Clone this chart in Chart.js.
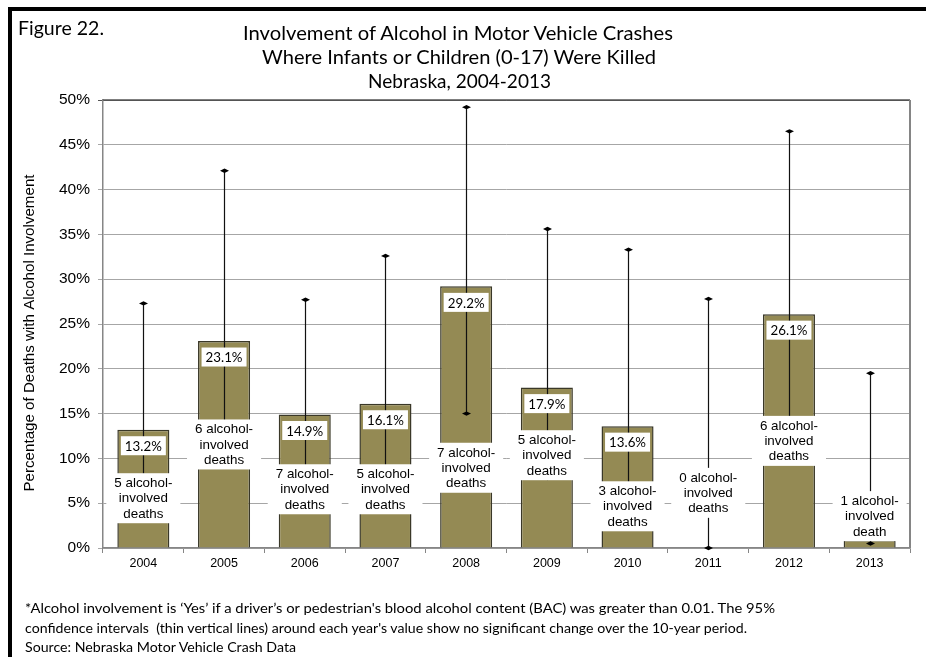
<!DOCTYPE html>
<html><head><meta charset="utf-8">
<script src="https://cdn.jsdelivr.net/npm/chart.js@4.4.1/dist/chart.umd.min.js"></script>
<style>
html,body{margin:0;padding:0;background:#fff;}
#wrap{position:relative;width:926px;height:657px;overflow:hidden;background:#fff;}
canvas{position:absolute;left:0;top:0;}
.t{position:absolute;white-space:pre;color:#000;line-height:1;font-weight:400;}
.frame{position:absolute;background:#000;}
</style></head><body>
<div id="wrap">
<canvas id="c" width="926" height="657"></canvas>
<div class="frame" style="left:8px;top:7px;width:4px;height:650px;"></div>
<div class="frame" style="left:8px;top:7px;width:918px;height:4px;"></div>
</div>
<script>
// ---- data ----
const years = ['2004','2005','2006','2007','2008','2009','2010','2011','2012','2013'];
const pctAlcohol = [13.2, 23.1, 14.9, 16.1, 29.2, 17.9, 13.6, 0, 26.1, 0.9];
const ciLower = [5.6, 11.2, 7.0, 7.0, 15.0, 7.8, 4.7, 0.0, 12.5, 0.5];
const ciUpper = [27.3, 42.1, 27.7, 32.6, 49.2, 35.6, 33.3, 27.8, 46.5, 19.5];
const alcoholDeaths = [5, 6, 7, 5, 7, 5, 3, 0, 6, 1];
const yTickValues = [0, 5, 10, 15, 20, 25, 30, 35, 40, 45, 50];

const titleLines = ['Involvement of Alcohol in Motor Vehicle Crashes',
  'Where Infants or Children (0-17) Were Killed', 'Nebraska, 2004-2013'];
const figureLabel = 'Figure 22.';
const yTitle = 'Percentage of Deaths with Alcohol Involvement';
const footLines = ['*Alcohol involvement is \u2018Yes\u2019 if a driver\u2019s or pedestrian\'s blood alcohol content (BAC) was greater than 0.01. The 95%',
  'confidence intervals  (thin vertical lines) around each year\'s value show no significant change over the 10-year period.',
  'Source: Nebraska Motor Vehicle Crash Data'];

// label placement (value-axis units, where the middle line of each count label sits)
const countLabelAt = [5.5, 11.5, 6.5, 6.5, 8.9, 10.3, 4.6, 6.1, 11.9, 3.5];

const wrap = document.getElementById('wrap');
function addText(txt, font, opts){
  const d = document.createElement('div');
  d.className = 't';
  d.style.font = font;
  d.textContent = txt;
  wrap.appendChild(d);
  const r = d.getBoundingClientRect();
  const s = opts.width ? opts.width / r.width : 1;
  let left = opts.left !== undefined ? opts.left : opts.cx - r.width*s/2;
  d.style.left = left + 'px';
  d.style.top = opts.top + 'px';
  d.style.transformOrigin = '0 0';
  d.style.transform = 'scaleX(' + s + ')';
}
const calib = "Lato, 'Open Sans', sans-serif";
addText(figureLabel, '19px ' + calib, {left:18, top:16, width:86});
addText(titleLines[0], '19px ' + calib, {cx:458, top:21, width:430});
addText(titleLines[1], '19px ' + calib, {cx:459, top:45, width:394});
addText(titleLines[2], '19px ' + calib, {cx:459, top:69, width:183});
addText(footLines[0], '13px ' + calib, {left:25, top:600, width:750});
addText(footLines[1], '13px ' + calib, {left:25, top:619.5, width:722});
addText(footLines[2], '13px ' + calib, {left:25, top:638.5, width:271});

const errorAndLabels = {
  id: 'errorAndLabels',
  afterDatasetsDraw(chart){
    const ctx = chart.ctx, xs = chart.scales.x, ys = chart.scales.y;
    const ca = chart.chartArea;
    ctx.save();
    // plot frame: top + right
    ctx.strokeStyle = '#555';
    ctx.lineWidth = 1.5;
    ctx.beginPath(); ctx.moveTo(ca.left, ca.top); ctx.lineTo(ca.right, ca.top); ctx.stroke();
    ctx.strokeStyle = '#858585';
    ctx.lineWidth = 2;
    ctx.beginPath(); ctx.moveTo(ca.right, ca.top); ctx.lineTo(ca.right, ca.bottom); ctx.stroke();
    // confidence interval lines
    for (let i = 0; i < years.length; i++){
      const x = Math.round(xs.getPixelForValue(i)) + 0.5;
      const y1 = ys.getPixelForValue(ciLower[i]);
      const y2 = ys.getPixelForValue(ciUpper[i]);
      ctx.strokeStyle = '#111';
      ctx.lineWidth = 1.2;
      ctx.beginPath(); ctx.moveTo(x, y1); ctx.lineTo(x, y2); ctx.stroke();
      ctx.fillStyle = '#000';
      [y1, y2].forEach(yy => {
        ctx.beginPath();
        ctx.moveTo(x - 4.5, yy); ctx.lineTo(x, yy - 2.2); ctx.lineTo(x + 4.5, yy); ctx.lineTo(x, yy + 2.2);
        ctx.closePath(); ctx.fill();
      });
    }
    // percentage labels
    ctx.font = "13px " + calib;
    const sPct = 37 / ctx.measureText('13.2%').width;
    for (let i = 0; i < years.length; i++){
      if (pctAlcohol[i] <= 1) continue;
      const txt = pctAlcohol[i].toFixed(1) + '%';
      const x = xs.getPixelForValue(i);
      const cy = ys.getPixelForValue(pctAlcohol[i]) + 16;
      const w = ctx.measureText(txt).width * sPct;
      ctx.fillStyle = '#fff';
      ctx.fillRect(x - w/2 - 4, cy - 9.5, w + 8, 19);
      ctx.save();
      ctx.translate(x, cy);
      ctx.scale(sPct, 1);
      ctx.fillStyle = '#000';
      ctx.textAlign = 'center';
      ctx.textBaseline = 'middle';
      ctx.fillText(txt, 0, 1);
      ctx.restore();
    }
    // count labels
    ctx.font = "13.4px 'Liberation Sans', Arial, sans-serif";
    for (let i = 0; i < years.length; i++){
      const lines = [alcoholDeaths[i] + ' alcohol-', 'involved', alcoholDeaths[i] === 1 ? 'death' : 'deaths'];
      const x = xs.getPixelForValue(i);
      const cy = ys.getPixelForValue(countLabelAt[i]);
      const w = Math.max(...lines.map(l => ctx.measureText(l).width));
      ctx.fillStyle = '#fff';
      ctx.fillRect(x - w/2 - 8, cy - 25.5, w + 16, 50);
      ctx.fillStyle = '#000';
      ctx.textAlign = 'center';
      ctx.textBaseline = 'middle';
      lines.forEach((l, k) => ctx.fillText(l, x, cy + (k - 1) * 15.4));
    }
    // y-axis title
    ctx.font = "14px 'Liberation Sans', Arial, sans-serif";
    const tw = ctx.measureText(yTitle).width;
    ctx.translate(30, 333);
    ctx.rotate(-Math.PI / 2);
    ctx.scale(317 / tw, 1);
    ctx.fillStyle = '#000';
    ctx.textAlign = 'center';
    ctx.textBaseline = 'middle';
    ctx.fillText(yTitle, 0, 0);
    ctx.restore();
  }
};

new Chart(document.getElementById('c'), {
  type: 'bar',
  data: {
    labels: years,
    datasets: [{
      data: pctAlcohol,
      backgroundColor: '#948A54',
      borderColor: '#3a3828',
      borderWidth: 1.5,
      barPercentage: 0.645,
      categoryPercentage: 1.0
    }]
  },
  options: {
    responsive: false,
    animation: false,
    devicePixelRatio: 1,
    layout: { padding: { top: 100, right: 16, bottom: 0, left: 0 } },
    plugins: { legend: { display: false }, tooltip: { enabled: false }, title: { display: false } },
    scales: {
      x: {
        grid: { display: true, offset: true, drawOnChartArea: false, tickLength: 5, color: '#868686' },
        border: { color: '#868686', width: 1.5 },
        ticks: { color: '#000', font: { family: "'Liberation Sans', Arial, sans-serif", size: 12.5 }, padding: 3.5, maxRotation: 0 },
        afterFit(s){ s.height = 109; }
      },
      y: {
        min: 0, max: 50,
        afterBuildTicks(s){ s.ticks = yTickValues.map(v => ({ value: v })); },
        grid: { color: c => (c.tick && c.tick.value === 50) ? '#555' : '#a6a6a6', lineWidth: 1, tickLength: 5 },
        border: { color: '#868686', width: 1.5 },
        ticks: { color: '#000', font: { family: "'Liberation Sans', Arial, sans-serif", size: 15.5 }, padding: 8,
          callback: v => v + '%' },
        afterFit(s){ s.width = 103; }
      }
    }
  },
  plugins: [errorAndLabels]
});
</script>
</body></html>
